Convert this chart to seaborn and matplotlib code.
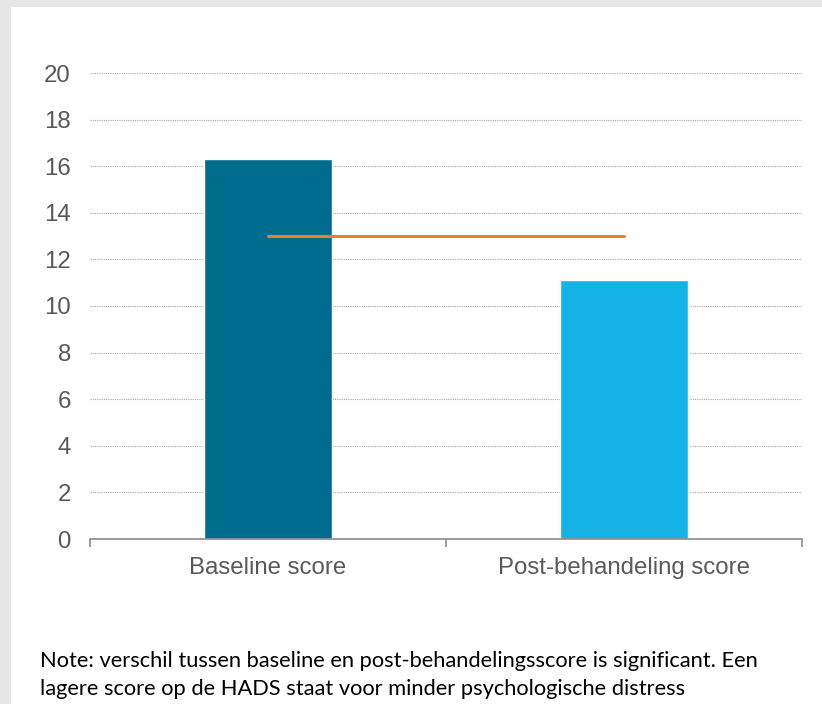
import numpy as np
import pandas as pd
import seaborn as sns
import matplotlib.pyplot as plt
from matplotlib.patches import Rectangle
from matplotlib.ticker import FixedLocator

# --- data ---
categories = ["Baseline score", "Post-behandeling score"]
scores = [16.3, 11.1]
cutoff = [13, 13]
bar_colors = ["#006d8e", "#15b2e6"]
yticks = list(range(0, 21, 2))
note = ("Note: verschil tussen baseline en post-behandelingsscore is significant. Een\n"
        "lagere score op de HADS staat voor minder psychologische distress")

sns.set_theme(style="white")
plt.rcParams['font.family'] = ['Liberation Sans', 'DejaVu Sans']

fig = plt.figure(figsize=(8.22, 7.04), dpi=100)
fig.patch.set_facecolor("#e6e6e6")
# white page area, the grey strip shows only left and top
fig.add_artist(Rectangle((11 / 822, 0), 1, 1 - 7 / 704, transform=fig.transFigure,
                         facecolor="white", edgecolor="none", zorder=-5))

ax = fig.add_axes([90 / 822, 1 - 539 / 704, 712 / 822, 466 / 704])
ax.set_facecolor("none")
ax.set_zorder(1)

df = pd.DataFrame({"cat": categories, "score": scores})
sns.barplot(data=df, x="cat", y="score", hue="cat", palette=bar_colors,
            width=0.36, saturation=1, legend=False, ax=ax, zorder=2)

# orange reference line between bar centres
ax.plot(np.arange(len(categories)), cutoff, color="#ed7d31", linewidth=2.2, zorder=3)

ax.set_ylim(0, 20)
ax.set_xlim(-0.5, len(categories) - 0.5)
ax.set_yticks(yticks)
ax.yaxis.grid(True, linestyle=(0, (1, 1)), color="#a6a6a6", linewidth=0.8, zorder=0)
ax.set_axisbelow(True)

for s in ["top", "right", "left"]:
    ax.spines[s].set_visible(False)
ax.spines["bottom"].set_color("#8c8c8c")
ax.spines["bottom"].set_linewidth(1.2)

ax.xaxis.set_minor_locator(FixedLocator(np.arange(-0.5, len(categories), 1.0)))
ax.tick_params(axis="x", which="major", length=0, pad=12.7, labelsize=17.3, labelcolor="#595959")
ax.tick_params(axis="x", which="minor", length=6, width=1.2, color="#8c8c8c", direction="out", bottom=True)
ax.tick_params(axis="y", length=0, pad=13.7, labelsize=17.3, labelcolor="#595959")
ax.set_xlabel("")
ax.set_ylabel("")

fig.text(40 / 822, 1 - 651 / 704, note, fontsize=15.75, color="black", family=["Lato", "DejaVu Sans"],
         va="top", ha="left", linespacing=1.5)

plt.savefig("out.png", dpi=100)
plt.close()
